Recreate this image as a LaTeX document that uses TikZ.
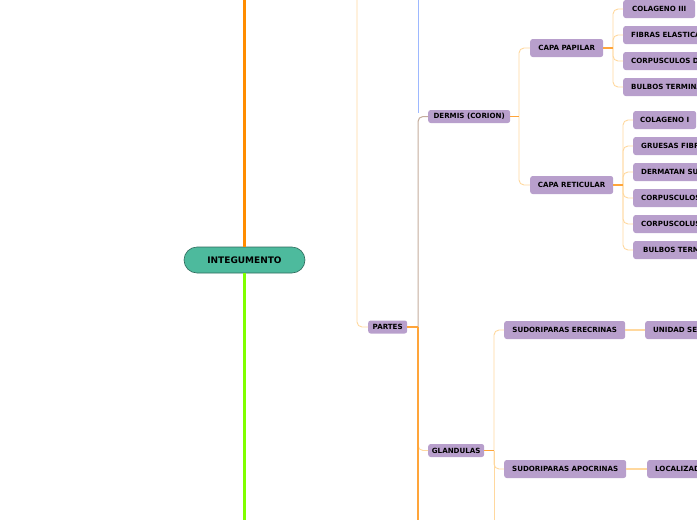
\documentclass[tikz,border=0pt]{standalone}
\usepackage{fontspec}
\setmainfont{DejaVu Sans}
\definecolor{boxc}{HTML}{B89FCC}
\definecolor{tealc}{HTML}{4DBA9D}
\definecolor{tealb}{HTML}{2E6A5C}
\definecolor{trunko}{HTML}{FF8C00}
\definecolor{trunkg}{HTML}{80FF00}
\definecolor{lightor}{HTML}{FFD89E}
\definecolor{midor}{HTML}{FFA53A}
\definecolor{bluec}{HTML}{9DB8FF}
\definecolor{tanc}{HTML}{C4AC9C}
\begin{document}
\begin{tikzpicture}[x=1pt,y=-1pt,
  txt/.style={font=\fontsize{7.1}{7.2}\selectfont\bfseries, text=black},
  sbox/.style={txt, fill=boxc, rounded corners=2.5pt, inner sep=0pt, minimum height=13pt, anchor=west, minimum width=#1},
  mbox/.style={txt, fill=boxc, rounded corners=2.5pt, inner sep=0pt, minimum height=18pt, anchor=west, minimum width=#1},
  cutbox/.style={txt, fill=boxc, rounded corners=2.5pt, inner ysep=0pt, inner xsep=8pt, minimum height=18pt, anchor=west, text width=#1, align=left},
  lo/.style={draw=lightor, line width=0.9pt, rounded corners=5pt},
  stub/.style={draw=midor, line width=1.3pt},
]
\useasboundingbox (0,0) rectangle (697,520);
\clip (0,0) rectangle (697,520);

% root
\node[txt, font=\fontsize{9}{9}\selectfont\bfseries, fill=tealc, draw=tealb, line width=0.6pt,
      rounded corners=13pt, minimum width=121pt, minimum height=26pt, inner sep=0pt] (integ) at (244.5,260) {INTEGUMENTO};

% level nodes
\node[sbox=39pt] (partes) at (368,327) {PARTES};
\node[sbox=82pt] (dermis) at (428,116.5) {DERMIS (CORION)};
\node[sbox=56pt] (gland) at (428,450.5) {GLANDULAS};

\node[mbox=73pt] (papilar) at (530,48) {CAPA PAPILAR};
\node[mbox=83pt] (retic) at (530,185) {CAPA RETICULAR};

\node[mbox=72pt] (p1) at (623,9) {COLAGENO III};
\node[cutbox=80pt] (p2) at (623,35) {FIBRAS ELASTICA};
\node[cutbox=80pt] (p3) at (623,61) {CORPUSCULOS D};
\node[cutbox=80pt] (p4) at (623,87) {BULBOS TERMINA};

\node[mbox=63pt] (r1) at (633,120) {COLAGENO I};
\node[cutbox=70pt] (r2) at (633,146) {GRUESAS FIBR};
\node[cutbox=70pt] (r3) at (633,172) {DERMATAN SU};
\node[cutbox=70pt] (r4) at (633,198) {CORPUSCULOS};
\node[cutbox=70pt] (r5) at (633,224) {CORPUSCOLUS};
\node[cutbox=70pt] (r6) at (633,250) {\hspace*{2pt}BULBOS TERM};

\node[mbox=121pt] (erec) at (504,330) {SUDORIPARAS ERECRINAS};
\node[mbox=122pt] (apoc) at (504,469) {SUDORIPARAS APOCRINAS};
\node[cutbox=60pt] (unid) at (645,330) {UNIDAD SE};
\node[cutbox=60pt] (loca) at (647,469) {LOCALIZAD};

% trunk
\coordinate (ttop) at (244.5,0);
\coordinate (tbot) at (244.5,520);
\draw[trunko, line width=3pt] (integ.north) -- (ttop);
\draw[trunkg, line width=2.6pt] (integ.south) -- (tbot);

% partes
\coordinate (ptop) at (357,0);
\draw[lo] (ptop) |- (partes.west);
\coordinate (jP) at (418,327);
\coordinate (btop) at (418,0);
\coordinate (bend) at (418,113);
\coordinate (pbot) at (418,520);
\draw[bluec, line width=1pt] (btop) -- (bend);
\draw[draw=tanc, line width=1pt, rounded corners=5pt] (jP) |- (dermis.west);
\draw[lo] (jP) |- (gland.west);
\draw[draw=midor, line width=1.1pt] (jP) -- (pbot);
\draw[stub] (partes.east) -- (jP);

% dermis
\coordinate (jD) at (519,116.5);
\draw[lo] (jD) |- (papilar.west);
\draw[lo] (jD) |- (retic.west);
\draw[stub] (dermis.east) -- (jD);

% papilar
\coordinate (jPa) at (613,48);
\foreach \c in {p1,p2,p3,p4} \draw[lo] (jPa) |- (\c.west);
\draw[stub] (papilar.east) -- (jPa);

% reticular
\coordinate (jR) at (623,185);
\foreach \c in {r1,r2,r3,r4,r5,r6} \draw[lo] (jR) |- (\c.west);
\draw[stub] (retic.east) -- (jR);

% glandulas
\coordinate (jG) at (494,450.5);
\coordinate (gbot) at (494,520);
\draw[lo] (jG) |- (erec.west);
\draw[lo] (jG) |- (apoc.west);
\draw[lo] (jG) -- (gbot);
\draw[stub] (gland.east) -- (jG);
\draw[draw=lightor, line width=1.2pt] (erec.east) -- (unid.west);
\draw[draw=lightor, line width=1.2pt] (apoc.east) -- (loca.west);
\end{tikzpicture}
\end{document}
